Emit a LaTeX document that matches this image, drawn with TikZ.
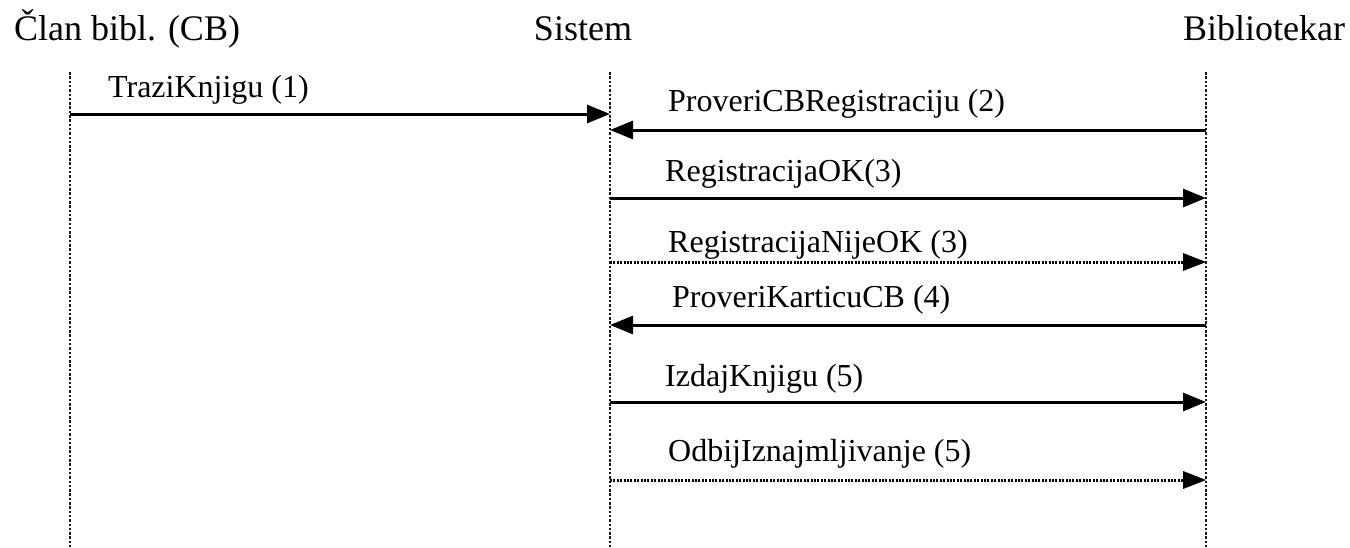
\documentclass[tikz,border=0pt]{standalone}
\usepackage{fontspec}
\setmainfont{Liberation Serif}
\usetikzlibrary{arrows.meta}
\tikzset{
  header/.style={anchor=base, inner sep=0pt, font=\fontsize{36}{40}\selectfont},
  msglabel/.style={anchor=base west, inner sep=0pt, font=\fontsize{32}{36}\selectfont},
  lifeline/.style={line width=2.6pt, dash pattern=on 2.5pt off 1.8pt, black!90},
  call/.style={line width=3pt, -{Triangle[length=23pt,width=18pt]}},
  reply/.style={line width=3pt, dash pattern=on 2pt off 1.4pt, black, -{Triangle[length=23pt,width=18pt,line width=0pt]}},
}
\begin{document}
\begin{tikzpicture}[x=1pt,y=-1pt]
\useasboundingbox (0,0) rectangle (1350,547);

% participants
\node[header] (cb)  at (127,40)  {Član bibl. (CB)};
\node[header] (sys) at (583,40)  {Sistem};
\node[header] (lib) at (1264,40) {Bibliotekar};

% lifelines
\coordinate (cbTop)  at (70,72);   \coordinate (cbBot)  at (70,547);
\coordinate (sysTop) at (610,72);  \coordinate (sysBot) at (610,547);
\coordinate (libTop) at (1206,72); \coordinate (libBot) at (1206,547);
\draw[lifeline] (cbTop) -- (cbBot);
\draw[lifeline] (sysTop) -- (sysBot);
\draw[lifeline] (libTop) -- (libBot);

% message end points on the lifelines
\foreach \n/\y in {1/114,2/130,3/198,4/262,5/325,6/402,7/480}{
  \coordinate (cb\n)  at (70,\y);
  \coordinate (sys\n) at (610,\y);
  \coordinate (lib\n) at (1206,\y);
}

% messages
\draw[call]  (cb1)  -- (sys1);
\node[msglabel] (m1) at (108,97)  {TraziKnjigu (1)};
\draw[call]  (lib2) -- (sys2);
\node[msglabel] (m2) at (668,111) {ProveriCBRegistraciju (2)};
\draw[call]  (sys3) -- (lib3);
\node[msglabel] (m3) at (665,181) {RegistracijaOK(3)};
\draw[reply] (sys4) -- (lib4);
\node[msglabel] (m4) at (668,252) {RegistracijaNijeOK (3)};
\draw[call]  (lib5) -- (sys5);
\node[msglabel] (m5) at (672,307) {ProveriKarticuCB (4)};
\draw[call]  (sys6) -- (lib6);
\node[msglabel] (m6) at (665,386) {IzdajKnjigu (5)};
\draw[reply] (sys7) -- (lib7);
\node[msglabel] (m7) at (668,461) {OdbijIznajmljivanje (5)};
\end{tikzpicture}
\end{document}
